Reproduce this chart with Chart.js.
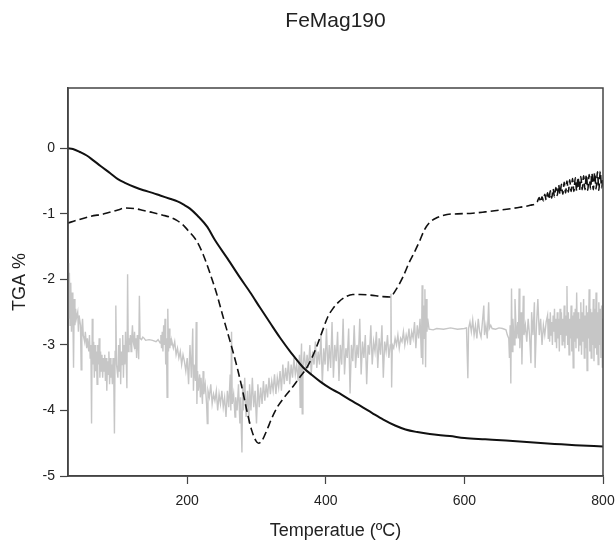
<!DOCTYPE html>
<html>
<head>
<meta charset="utf-8">
<script src="https://cdn.jsdelivr.net/npm/chart.js@4"></script>
<style>
html,body{margin:0;padding:0;background:#fff;}
canvas{display:block;}
</style>
</head>
<body>
<canvas id="c" width="616" height="542"></canvas>
<script>
const chartTitle = "FeMag190";
const xTitle = "Temperatue (ºC)";
const yTitle = "TGA %";
const xTicks = [200, 400, 600, 800];
const yTicks = [-5, -4, -3, -2, -1, 0];

// TGA curve (solid)
const solidT = [28,35,46,55,64,75,89,100,111,124,137,150,161,175,186,195,204,215,229,240,258,276,291,305,320,334,350,367,380,392,406,420,435,450,467,483,500,515,532,550,579,600,630,660,700,730,760,800];
const solidV = [0,-0.01,-0.06,-0.11,-0.18,-0.27,-0.38,-0.47,-0.53,-0.59,-0.64,-0.68,-0.72,-0.77,-0.81,-0.86,-0.92,-1.03,-1.2,-1.4,-1.68,-1.97,-2.2,-2.43,-2.67,-2.89,-3.12,-3.34,-3.46,-3.56,-3.66,-3.74,-3.84,-3.93,-4.04,-4.14,-4.23,-4.29,-4.33,-4.36,-4.39,-4.42,-4.44,-4.46,-4.49,-4.51,-4.53,-4.55];

// dashed curve
const dashT = [28,40,60,80,100,111,125,137,150,165,175,185,195,201,207,214,223,233,242,252,262,272,280,286,293,299,303,308,315,322,330,340,353,362,370,378,387,394,403,410,418,428,439,450,464,480,493,500,511,520,529,536,542,550,560,575,590,612,630,661,680,695,705,708,710,712,714,716,718,720,722,724,726,728,730,732,734,736,738,740,742,744,746,748,750,752,754,756,758,760,762,764,766,768,770,772,774,776,778,780,782,784,786,788,790,792,794,796,798,800];
const dashV = [-1.14,-1.1,-1.04,-1.0,-0.94,-0.91,-0.92,-0.95,-0.98,-1.02,-1.05,-1.1,-1.18,-1.25,-1.32,-1.42,-1.62,-1.91,-2.2,-2.58,-2.95,-3.34,-3.7,-4.0,-4.3,-4.46,-4.5,-4.46,-4.3,-4.12,-3.95,-3.8,-3.63,-3.5,-3.39,-3.24,-3.02,-2.82,-2.57,-2.45,-2.35,-2.27,-2.23,-2.23,-2.24,-2.26,-2.27,-2.18,-1.97,-1.75,-1.56,-1.4,-1.25,-1.13,-1.06,-1.01,-1.0,-0.99,-0.97,-0.93,-0.9,-0.87,-0.82,-0.75,-0.82,-0.74,-0.8,-0.7,-0.79,-0.68,-0.78,-0.65,-0.76,-0.62,-0.74,-0.6,-0.72,-0.56,-0.7,-0.55,-0.7,-0.52,-0.68,-0.5,-0.67,-0.48,-0.66,-0.46,-0.66,-0.45,-0.65,-0.44,-0.64,-0.43,-0.63,-0.42,-0.63,-0.4,-0.64,-0.4,-0.62,-0.38,-0.63,-0.37,-0.62,-0.36,-0.64,-0.35,-0.6,-0.45];

// gray noisy curve
const grayT = [28,29,30,31,32,33,34,35,36,37,38,39,40,42,43,44,46,47,48,49,50,52,53,55,56,58,59,60,61,62,63,64,65,66,67,68,69,70,71,72,73,74,75,76,77,78,79,80,81,82,83,84,85,86,87,88,89,90,91,92,93,94,95,96,97,98,100,101,102,103,104,105,106,107,108,109,110,111,112,113,114,115,116,117,118,119,120,121,122,123,124,125,126,127,128,129,130,131,132,134,136,138,140,145,150,155,158,161,162,163,164,165,166,167,168,169,170,171,172,173,174,175,176,177,178,180,182,184,186,188,190,192,194,196,198,200,202,204,206,208,209,210,212,213,214,215,216,218,219,220,222,223,224,226,228,229,230,232,234,236,238,240,242,244,246,248,250,252,254,256,258,260,262,263,264,265,267,269,270,272,274,276,277,279,280,281,283,285,287,289,290,292,294,296,298,300,302,304,306,308,310,312,314,316,318,320,322,324,326,328,330,332,334,336,338,340,342,344,346,348,350,352,354,356,358,360,362,363,364,365,366,367,369,371,373,375,377,379,381,383,385,387,389,391,393,395,397,399,401,403,405,407,409,411,413,415,417,419,421,423,425,427,429,431,433,435,437,439,441,443,445,447,449,451,453,455,457,459,461,463,465,467,469,471,473,475,477,479,481,483,485,487,489,491,493,494,495,496,498,500,502,504,506,508,510,512,514,516,518,520,522,524,526,528,530,532,534,536,538,539,540,541,542,543,544,545,546,547,549,555,560,570,580,590,600,603,605,606,608,610,612,614,616,618,620,622,624,626,628,629,631,633,635,636,638,640,645,650,655,660,662,664,665,666,667,668,669,670,672,673,675,677,678,679,680,682,683,685,686,688,690,692,694,696,697,699,701,702,704,706,708,710,712,714,716,718,720,721,722,723,724,725,726,727,728,729,730,731,732,733,734,735,736,737,738,739,740,741,742,743,744,745,746,747,748,749,750,751,752,753,754,755,756,757,758,759,760,761,762,763,764,765,766,767,768,769,770,771,772,773,774,775,776,777,778,779,780,781,782,783,784,785,786,787,788,789,790,791,792,793,794,795,796,797,798,799,800];
const grayV = [-1.75,-2.6,-1.9,-2.7,-2.05,-2.8,-2.2,-2.5,-3.35,-2.3,-2.7,-2.45,-2.6,-2.5,-2.8,-2.55,-2.7,-3.38,-2.75,-2.6,-2.85,-2.95,-2.8,-3.05,-2.9,-3.1,-2.85,-3.2,-3.0,-4.2,-2.6,-3.3,-2.95,-3.5,-3.0,-3.4,-3.1,-3.6,-3.0,-3.3,-2.9,-3.5,-3.1,-3.4,-3.15,-3.5,-3.2,-3.4,-3.15,-3.55,-3.2,-3.7,-3.25,-3.45,-3.1,-3.6,-3.2,-3.5,-3.3,-3.6,-3.2,-3.45,-4.35,-3.1,-2.4,-3.3,-3.5,-3.0,-3.4,-2.9,-3.6,-3.1,-3.3,-2.85,-3.5,-3.0,-3.3,-2.8,-3.2,-3.66,-1.92,-3.1,-2.9,-3.0,-2.85,-3.1,-2.9,-2.7,-2.95,-3.0,-2.8,-3.05,-2.9,-3.2,-2.85,-2.95,-3.22,-2.25,-2.9,-2.92,-2.88,-2.9,-2.93,-2.92,-2.93,-2.95,-2.92,-2.97,-2.85,-3.05,-2.8,-3.1,-2.7,-3.0,-2.6,-3.3,-2.9,-3.8,-2.45,-3.1,-2.75,-3.05,-2.9,-3.0,-2.95,-3.05,-2.95,-3.15,-3.05,-3.2,-3.1,-3.3,-3.15,-3.25,-3.4,-3.2,-3.6,-3.0,-3.5,-2.75,-3.7,-3.3,-3.55,-2.65,-3.9,-3.4,-3.7,-3.45,-3.8,-3.5,-3.9,-3.4,-3.75,-3.6,-3.9,-4.2,-3.7,-3.8,-3.6,-3.9,-3.75,-3.85,-3.7,-4.0,-3.75,-3.9,-3.7,-3.95,-3.8,-4.1,-3.7,-3.95,-3.45,-4.0,-2.8,-3.9,-3.75,-4.1,-3.8,-4.0,-3.6,-4.2,-3.8,-4.64,-3.6,-4.0,-3.5,-4.1,-3.7,-4.2,-3.6,-4.0,-3.5,-3.95,-3.7,-4.2,-3.6,-3.95,-3.65,-3.9,-3.55,-3.85,-3.6,-3.8,-3.5,-3.75,-3.55,-3.7,-3.45,-3.75,-3.5,-3.65,-3.4,-3.7,-3.3,-3.6,-3.35,-3.55,-3.25,-3.6,-3.3,-3.5,-3.2,-3.45,-3.3,-3.55,-3.15,-3.95,-3.3,-2.98,-4.05,-3.35,-3.1,-3.4,-3.15,-3.35,-3.0,-3.45,-3.1,-3.3,-2.95,-3.35,-3.1,-3.3,-2.85,-3.6,-3.05,-3.3,-2.75,-3.4,-3.0,-3.35,-2.65,-3.5,-3.0,-3.25,-2.8,-3.55,-3.0,-3.3,-2.6,-3.45,-3.05,-3.2,-2.75,-3.74,-3.0,-3.25,-2.7,-3.35,-3.0,-3.2,-2.6,-3.45,-2.95,-3.2,-2.85,-3.6,-3.0,-3.15,-2.7,-3.3,-2.95,-3.1,-2.8,-3.35,-2.9,-3.15,-2.7,-3.5,-2.95,-3.1,-2.85,-3.2,-3.0,-2.22,-3.65,-3.0,-3.05,-2.9,-3.0,-2.85,-3.05,-2.9,-2.95,-2.8,-3.0,-2.85,-2.95,-2.75,-3.0,-2.8,-2.9,-2.65,-3.05,-2.7,-2.9,-2.6,-3.2,-2.09,-3.3,-2.4,-2.9,-2.15,-3.34,-2.3,-2.8,-2.6,-2.76,-2.77,-2.75,-2.76,-2.74,-2.76,-2.75,-2.74,-3.51,-2.75,-2.65,-2.8,-2.62,-2.85,-2.7,-2.9,-2.6,-2.8,-2.88,-2.65,-2.4,-2.85,-2.7,-2.9,-2.35,-2.75,-2.7,-2.75,-2.76,-2.74,-2.75,-2.77,-2.85,-2.9,-3.2,-2.7,-3.59,-2.14,-3.1,-2.6,-3.0,-2.3,-2.9,-2.65,-2.9,-2.14,-3.05,-2.5,-3.3,-2.25,-2.85,-2.7,-2.95,-2.6,-2.85,-3.28,-2.5,-2.85,-2.35,-3.35,-2.7,-2.3,-2.85,-2.6,-3.0,-2.7,-2.85,-2.65,-2.55,-2.9,-2.6,-2.95,-2.5,-2.85,-2.65,-3.0,-2.55,-2.8,-2.45,-2.95,-2.6,-3.05,-2.5,-2.9,-2.6,-3.1,-2.45,-2.85,-2.5,-3.0,-2.6,-2.95,-2.4,-3.05,-2.55,-2.85,-2.1,-3.0,-2.5,-3.15,-2.6,-2.9,-2.4,-3.1,-2.55,-3.35,-2.5,-2.95,-2.45,-3.05,-2.2,-2.9,-2.5,-3.1,-2.6,-3.0,-2.35,-3.15,-2.5,-2.95,-2.3,-3.2,-2.55,-3.05,-2.4,-3.39,-2.5,-2.9,-2.15,-3.1,-2.45,-3.2,-2.5,-3.0,-2.3,-3.25,-2.45,-3.05,-2.2,-3.15,-2.5,-3.3,-2.35,-3.0,-2.45,-3.2,-2.4,-3.35,-2.6];

const xMin = 28, xMax = 800, yMin = -5, yMax = 0.92;

function pts(t, v){ return t.map((x,i)=>({x:x, y:v[i]})); }

const FONT = "'Liberation Sans', Arial, sans-serif";

const boxPlugin = {
  id: 'box',
  afterDraw(chart){
    const a = chart.chartArea, ctx = chart.ctx;
    ctx.save();
    ctx.strokeStyle = '#444';
    ctx.lineWidth = 1.5;
    ctx.strokeRect(a.left, a.top, a.right - a.left, a.bottom - a.top);
    // title centred over the plot area
    ctx.fillStyle = '#222';
    ctx.font = "21px " + FONT;
    ctx.textAlign = 'center';
    ctx.textBaseline = 'middle';
    ctx.fillText(chartTitle, (a.left + a.right) / 2, 21);
    ctx.restore();
  }
};

new Chart(document.getElementById('c'), {
  type: 'line',
  data: {
    datasets: [
      { data: pts(solidT, solidV), borderColor: '#111', borderWidth: 2, pointRadius: 0, cubicInterpolationMode: 'monotone', order: 0 },
      { data: pts(dashT, dashV), borderColor: '#111', borderWidth: 1.6, borderDash: [8,4], pointRadius: 0, cubicInterpolationMode: 'monotone', order: 1 },
      { data: pts(grayT, grayV), borderColor: '#c6c6c6', borderWidth: 1.4, pointRadius: 0, tension: 0, order: 2 }
    ]
  },
  options: {
    responsive: false,
    animation: false,
    events: [],
    layout: { padding: { left: 0, right: 13, top: 88, bottom: 0 } },
    plugins: {
      legend: { display: false },
      tooltip: { enabled: false },
      title: { display: false }
    },
    scales: {
      x: {
        type: 'linear', min: xMin, max: xMax,
        afterBuildTicks(s){ s.ticks = xTicks.map(v=>({value:v})); },
        afterFit(s){ s.height = 66; s.paddingLeft = 0; s.paddingRight = 0; },
        grid: { drawOnChartArea: false, tickLength: 8, color: '#444', tickWidth: 1.2 },
        border: { display: true, color: '#444', width: 1.5 },
        ticks: { color: '#222', font: { family: FONT, size: 14 }, padding: 9, maxRotation: 0 },
        title: { display: true, text: xTitle, color: '#222', font: { family: FONT, size: 18 }, padding: { top: 4, bottom: 0 } }
      },
      y: {
        type: 'linear', min: yMin, max: yMax,
        afterBuildTicks(s){ s.ticks = yTicks.map(v=>({value:v})); },
        afterFit(s){ s.width = 68; s.paddingTop = 0; s.paddingBottom = 0; },
        grid: { drawOnChartArea: false, tickLength: 8, color: '#444', tickWidth: 1.2 },
        border: { display: true, color: '#444', width: 1.5 },
        ticks: { color: '#222', font: { family: FONT, size: 14 }, padding: 5 },
        title: { display: true, text: yTitle, color: '#222', font: { family: FONT, size: 18 }, padding: { top: 9, bottom: 0 } }
      }
    }
  },
  plugins: [boxPlugin]
});
</script>
</body>
</html>
